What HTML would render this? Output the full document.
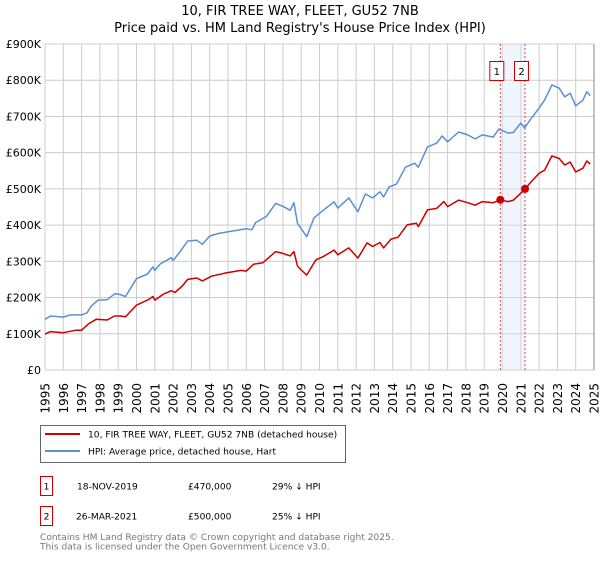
<!DOCTYPE html>
<html><head><meta charset="utf-8"><style>
body{margin:0;background:#fff;font-family:"DejaVu Sans","Liberation Sans",sans-serif;}
svg text{font-family:"DejaVu Sans","Liberation Sans",sans-serif;}
</style></head><body>
<svg id="c" width="600" height="560" xmlns="http://www.w3.org/2000/svg">
<text x="300" y="15" text-anchor="middle" font-size="13">10, FIR TREE WAY, FLEET, GU52 7NB</text>
<text x="300" y="32" text-anchor="middle" font-size="13">Price paid vs. HM Land Registry's House Price Index (HPI)</text>
<g id="grid"></g><g id="marks"></g><g id="axes"></g>
<g>
<rect x="40.5" y="425.5" width="305" height="37" fill="#fff" stroke="#666"/>
<line x1="45" y1="434" x2="80" y2="434" stroke="#cc0000" stroke-width="2"/>
<text x="88" y="437.5" font-size="9.1">10, FIR TREE WAY, FLEET, GU52 7NB (detached house)</text>
<line x1="45" y1="451" x2="80" y2="451" stroke="#5b8fd4" stroke-width="2"/>
<text x="88" y="454.5" font-size="9.1">HPI: Average price, detached house, Hart</text>
</g>
<g font-size="9.1">
<rect x="40.5" y="476.5" width="12" height="19" fill="#fff" stroke="#cc0000"/>
<text x="46.5" y="489.5" text-anchor="middle">1</text>
<text x="77" y="489.5">18-NOV-2019</text>
<text x="188" y="489.5">£470,000</text>
<text x="272" y="489.5">29% ↓ HPI</text>
<rect x="40.5" y="506.5" width="12" height="19" fill="#fff" stroke="#cc0000"/>
<text x="46.5" y="519.5" text-anchor="middle">2</text>
<text x="76" y="519.5">26-MAR-2021</text>
<text x="188" y="519.5">£500,000</text>
<text x="272" y="519.5">25% ↓ HPI</text>
</g>
<text x="40" y="540" font-size="9.1" fill="#777">Contains HM Land Registry data © Crown copyright and database right 2025.</text>
<text x="40" y="549.5" font-size="9.1" fill="#777">This data is licensed under the Open Government Licence v3.0.</text>
</svg>
<script>
const hpiYears=[1995,1995.3,1996,1996.4,1997,1997.3,1997.5,1997.9,1998.4,1998.8,1999,1999.4,2000,2000.6,2000.9,2001,2001.3,2001.9,2002,2002.4,2002.8,2003.3,2003.6,2004,2004.5,2005.3,2006,2006.3,2006.5,2007.1,2007.6,2008,2008.4,2008.6,2008.8,2009,2009.3,2009.7,2010.2,2010.8,2011,2011.6,2012.1,2012.5,2012.9,2013.3,2013.5,2013.8,2014.2,2014.7,2015.2,2015.4,2015.9,2016.4,2016.7,2017,2017.6,2018.1,2018.5,2018.9,2019.5,2019.8,2020.3,2020.6,2021,2021.2,2021.5,2022,2022.3,2022.7,2023.1,2023.4,2023.7,2024,2024.4,2024.6,2024.8];
const hpiValues=[140,149,146,152,152,158,175,193,194,210,210,203,252,265,285,275,293,310,302,328,356,358,347,370,377,384,390,387,407,424,460,452,441,462,405,390,368,420,441,464,447,475,437,486,475,492,478,505,513,560,571,560,616,626,646,630,657,649,638,649,643,665,654,656,682,668,690,723,745,787,778,754,764,729,745,768,757];
const ppYears=[1995,1995.3,1996,1996.7,1997,1997.4,1997.8,1998.4,1998.8,1999.1,1999.4,2000,2000.6,2000.9,2001,2001.5,2001.9,2002.1,2002.5,2002.8,2003.3,2003.6,2004.1,2004.9,2005.7,2006,2006.4,2006.9,2007.6,2008,2008.4,2008.6,2008.8,2009,2009.3,2009.8,2010.2,2010.8,2011,2011.6,2012.1,2012.6,2012.9,2013.3,2013.5,2013.9,2014.3,2014.8,2015.3,2015.4,2015.9,2016.4,2016.8,2017,2017.6,2018.1,2018.5,2018.9,2019.5,2019.88,2020.3,2020.6,2021,2021.23,2021.5,2022,2022.3,2022.7,2023.1,2023.4,2023.7,2024,2024.4,2024.6,2024.8];
const ppValues=[99,106,103,110,110,128,140,138,149,149,147,179,193,203,193,210,219,214,232,250,254,246,259,268,275,273,292,296,327,322,315,327,287,276,262,304,313,331,318,337,309,351,341,352,337,361,367,401,405,396,442,446,465,451,469,462,455,465,462,470,465,469,488,500,516,543,552,591,584,566,574,547,557,577,569];
const saleYears=[2019.88,2021.23];
const saleValues=[470,500];
const saleLabels=["1","2"];
const yTicks=[0,100,200,300,400,500,600,700,800,900];
const yTickLabels=["£0","£100K","£200K","£300K","£400K","£500K","£600K","£700K","£800K","£900K"];
const xTicks=[1995,1996,1997,1998,1999,2000,2001,2002,2003,2004,2005,2006,2007,2008,2009,2010,2011,2012,2013,2014,2015,2016,2017,2018,2019,2020,2021,2022,2023,2024,2025];

const NS="http://www.w3.org/2000/svg";
const X0=45,X1=594,Y0=370,Y1=44;
const xs=y=>X0+(y-1995)/(2025-1995)*(X1-X0);
const ys=v=>Y0-v/900*(Y0-Y1);
function mk(tag,attrs,parent){const e=document.createElementNS(NS,tag);for(const k in attrs)e.setAttribute(k,attrs[k]);parent.appendChild(e);return e;}
const grid=document.getElementById('grid'),marks=document.getElementById('marks'),axes=document.getElementById('axes');
yTicks.forEach((t,i)=>{
 const l=mk('line',{x1:X0,x2:X1,y1:ys(t),y2:ys(t),stroke:'#ccc','stroke-width':1},grid);
 
 
 const tx=mk('text',{x:X0-4,y:ys(t)+4,'text-anchor':'end','font-size':11},axes);
 tx.textContent=yTickLabels[i];
 
 
});
xTicks.forEach(t=>{
 const l=mk('line',{x1:xs(t),x2:xs(t),y1:Y1,y2:Y0,stroke:'#ccc','stroke-width':1},grid);
 
 
 const tx=mk('text',{x:0,y:0,'text-anchor':'end','font-size':12,transform:`translate(${xs(t)+4.5},${Y0+13}) rotate(-90)`},axes);
 tx.textContent=t;
 
 
});
const band=mk('rect',{x:xs(saleYears[0]),y:Y1,width:xs(saleYears[1])-xs(saleYears[0]),height:Y0-Y1,fill:'#dde6f8','fill-opacity':0.4},marks);


saleYears.forEach((y,i)=>{
 const l=mk('line',{x1:xs(y),x2:xs(y),y1:Y1,y2:Y0,stroke:'#e04040','stroke-width':1,'stroke-dasharray':'2,2'},marks);
 
 
 const r=mk('rect',{x:xs(y)-10.5,y:61.5,width:14,height:19,fill:'#fff',stroke:'#cc0000'},marks);
 
 
 const tx=mk('text',{x:xs(y)-3.5,y:75,'text-anchor':'middle','font-size':10},marks);
 tx.textContent=saleLabels[i];
 
 
});
function path(xv,yv,color,name){
 const d=xv.map((x,i)=>(i?'L':'M')+xs(x).toFixed(1)+','+ys(yv[i]).toFixed(1)).join('');
 const p=mk('path',{d:d,fill:'none',stroke:color,'stroke-width':1.5,'stroke-linejoin':'round'},marks);
 
 
}
path(hpiYears,hpiValues,'#5b8fd4','hpi-line');
path(ppYears,ppValues,'#cc0000','price-paid-line');
saleYears.forEach((y,i)=>{
 const c=mk('circle',{cx:xs(y),cy:ys(saleValues[i]),r:4,fill:'#cc0000'},marks);
 
 
});
const border=mk('line',{x1:X1,x2:X1,y1:Y1,y2:Y0,stroke:'#888','stroke-width':1},axes);


</script>
</body></html>
